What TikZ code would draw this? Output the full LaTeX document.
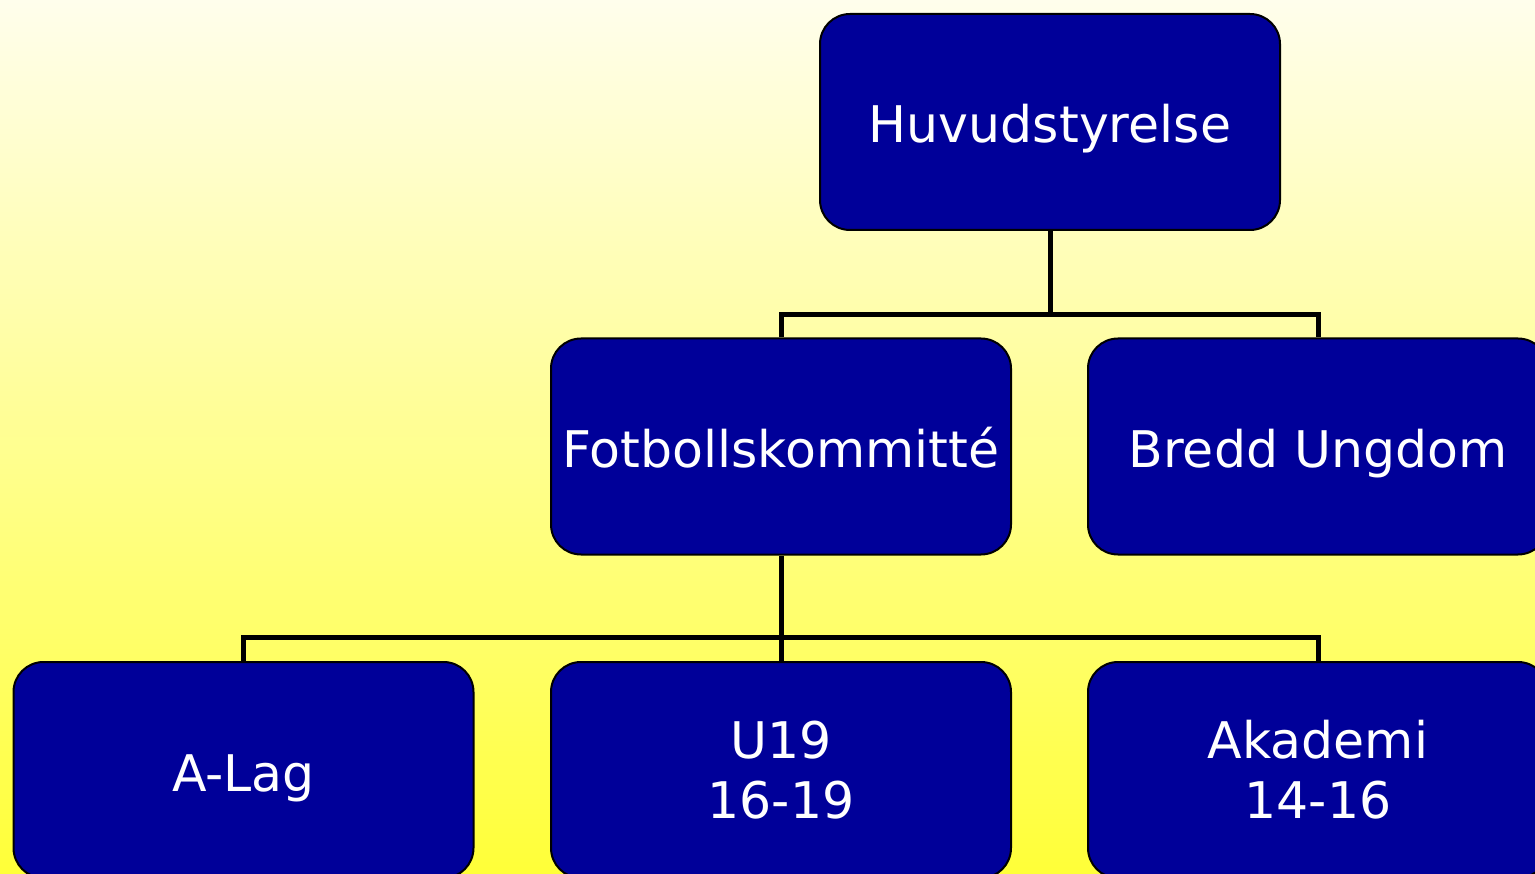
\documentclass[tikz,border=0pt]{standalone}
\usepackage{fontspec}
\setmainfont{DejaVu Sans}
\definecolor{boxblue}{RGB}{0,0,153}
\definecolor{bgtop}{RGB}{255,254,236}
\definecolor{bgbot}{RGB}{255,255,56}
\begin{document}
\begin{tikzpicture}[x=1pt,y=-1pt,
  orgbox/.style={rectangle, rounded corners=30pt, fill=boxblue, draw=black, line width=2pt,
    minimum width=460pt, minimum height=216pt, text=white, align=center,
    font=\fontsize{50.5}{60}\selectfont, inner sep=0pt},
  oneline/.style={text height=42pt, text depth=0pt},
  conn/.style={draw=black, line width=5pt}]
\useasboundingbox (0,0) rectangle (1535,874);
\clip (0,0) rectangle (1535,874);
\shade[top color=bgtop, bottom color=bgbot] (0,0) rectangle (1535,874);
\node[orgbox, oneline] (huv) at (1050,122) {Huvudstyrelse};
\node[orgbox, oneline] (fot) at (781,446.5) {Fotbollskommitté};
\node[orgbox, oneline] (bre) at (1318,446.5) {Bredd Ungdom};
\node[orgbox, oneline] (alag) at (243.5,770) {A-Lag};
\node[orgbox] (u19) at (781,770) {U19\\16-19};
\node[orgbox] (aka) at (1318,770) {Akademi\\14-16};
\coordinate (j1) at (1050,314.5);
\coordinate (j2) at (781,637.5);
\draw[conn] (huv.south) -- (j1);
\draw[conn] (fot.north) -- (fot.north |- j1) -- (bre.north |- j1) -- (bre.north);
\draw[conn] (fot.south) -- (u19.north);
\draw[conn] (alag.north) -- (alag.north |- j2) -- (aka.north |- j2) -- (aka.north);
\end{tikzpicture}
\end{document}
